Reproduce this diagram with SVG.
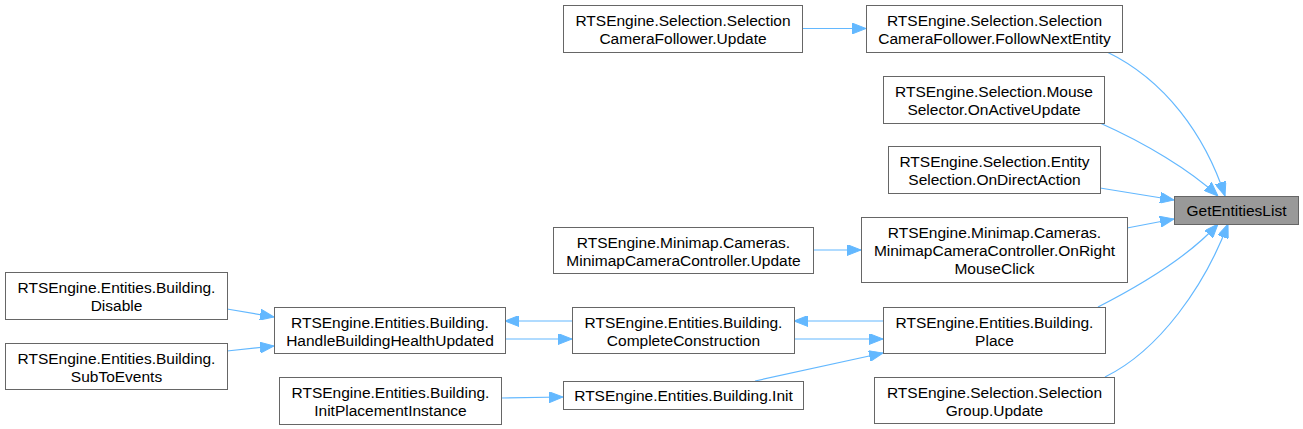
<svg xmlns="http://www.w3.org/2000/svg" width="1303" height="429" viewBox="0 0 1303 429">
<defs>
<style>
.n rect{fill:#ffffff;stroke:#666666;stroke-width:1}
.n.hl rect{fill:#999999}
.n text{font-family:"Liberation Sans",Arial,sans-serif;font-size:15.5px;fill:#000000;text-anchor:middle}
.e path{fill:none;stroke:#63b8ff;stroke-width:1.2;marker-end:url(#ah)}
</style>
<marker id="ah" viewBox="0 0 14 11" refX="14" refY="5.5" markerUnits="userSpaceOnUse" markerWidth="14" markerHeight="11" orient="auto">
<path d="M0,0 L14,5.5 L0,11 z" fill="#63b8ff" stroke="#63b8ff"/>
</marker>
</defs>
<rect width="1303" height="429" fill="#ffffff"/>
<g id="edges" class="e">
<path d="M803,28.5 L866,28.5"/>
<path d="M1107,52 C1165,80 1205,135 1225,196"/>
<path d="M1100,123 C1145,143 1190,170 1218,196"/>
<path d="M1100,188 L1174,200"/>
<path d="M1127,228 L1174,219"/>
<path d="M813,250 L861,250"/>
<path d="M1098,307 C1145,283 1190,255 1218,224"/>
<path d="M1105,377 C1160,350 1205,285 1228,224"/>
<path d="M883,321 L794,321"/>
<path d="M794,339 L883,339"/>
<path d="M572,321 L505,321"/>
<path d="M505,339 L572,339"/>
<path d="M227,309 L274,317"/>
<path d="M227,351 L274,346"/>
<path d="M501,398 L563,397"/>
<path d="M755,381 L883,353"/>
</g>
<g id="n_scfu" class="n"><rect x="563.5" y="5.5" width="239" height="47"/><text x="683" y="26">RTSEngine.Selection.Selection</text><text x="683" y="44">CameraFollower.Update</text></g>
<g id="n_fne" class="n"><rect x="866.5" y="5.5" width="256" height="47"/><text x="994.5" y="26">RTSEngine.Selection.Selection</text><text x="994.5" y="44">CameraFollower.FollowNextEntity</text></g>
<g id="n_ms" class="n"><rect x="883.5" y="76.5" width="221" height="47"/><text x="994" y="97">RTSEngine.Selection.Mouse</text><text x="994" y="115">Selector.OnActiveUpdate</text></g>
<g id="n_es" class="n"><rect x="888.5" y="146.5" width="212" height="47"/><text x="994.5" y="167">RTSEngine.Selection.Entity</text><text x="994.5" y="185">Selection.OnDirectAction</text></g>
<g id="n_get" class="n hl"><rect x="1174.5" y="196.5" width="124" height="28"/><text x="1236.5" y="216">GetEntitiesList</text></g>
<g id="n_mccu" class="n"><rect x="553.5" y="227.5" width="260" height="46"/><text x="683.5" y="247.5">RTSEngine.Minimap.Cameras.</text><text x="683.5" y="265.5">MinimapCameraController.Update</text></g>
<g id="n_orm" class="n"><rect x="861.5" y="217.5" width="266" height="65"/><text x="994.5" y="238">RTSEngine.Minimap.Cameras.</text><text x="994.5" y="256">MinimapCameraController.OnRight</text><text x="994.5" y="274">MouseClick</text></g>
<g id="n_dis" class="n"><rect x="5.5" y="272.5" width="222" height="47"/><text x="116.5" y="293">RTSEngine.Entities.Building.</text><text x="116.5" y="311">Disable</text></g>
<g id="n_sub" class="n"><rect x="5.5" y="343.5" width="222" height="46"/><text x="116.5" y="363.5">RTSEngine.Entities.Building.</text><text x="116.5" y="381.5">SubToEvents</text></g>
<g id="n_hbhu" class="n"><rect x="274.5" y="307.5" width="231" height="46"/><text x="390" y="327.5">RTSEngine.Entities.Building.</text><text x="390" y="345.5">HandleBuildingHealthUpdated</text></g>
<g id="n_cc" class="n"><rect x="572.5" y="307.5" width="222" height="46"/><text x="683.5" y="327.5">RTSEngine.Entities.Building.</text><text x="683.5" y="345.5">CompleteConstruction</text></g>
<g id="n_place" class="n"><rect x="883.5" y="307.5" width="222" height="46"/><text x="994.5" y="327.5">RTSEngine.Entities.Building.</text><text x="994.5" y="345.5">Place</text></g>
<g id="n_init" class="n"><rect x="563.5" y="381.5" width="240" height="28"/><text x="683.5" y="401">RTSEngine.Entities.Building.Init</text></g>
<g id="n_ipi" class="n"><rect x="279.5" y="377.5" width="222" height="47"/><text x="390.5" y="398">RTSEngine.Entities.Building.</text><text x="390.5" y="416">InitPlacementInstance</text></g>
<g id="n_sgu" class="n"><rect x="874.5" y="377.5" width="240" height="46"/><text x="994.5" y="397.5">RTSEngine.Selection.Selection</text><text x="994.5" y="415.5">Group.Update</text></g>
</svg>
